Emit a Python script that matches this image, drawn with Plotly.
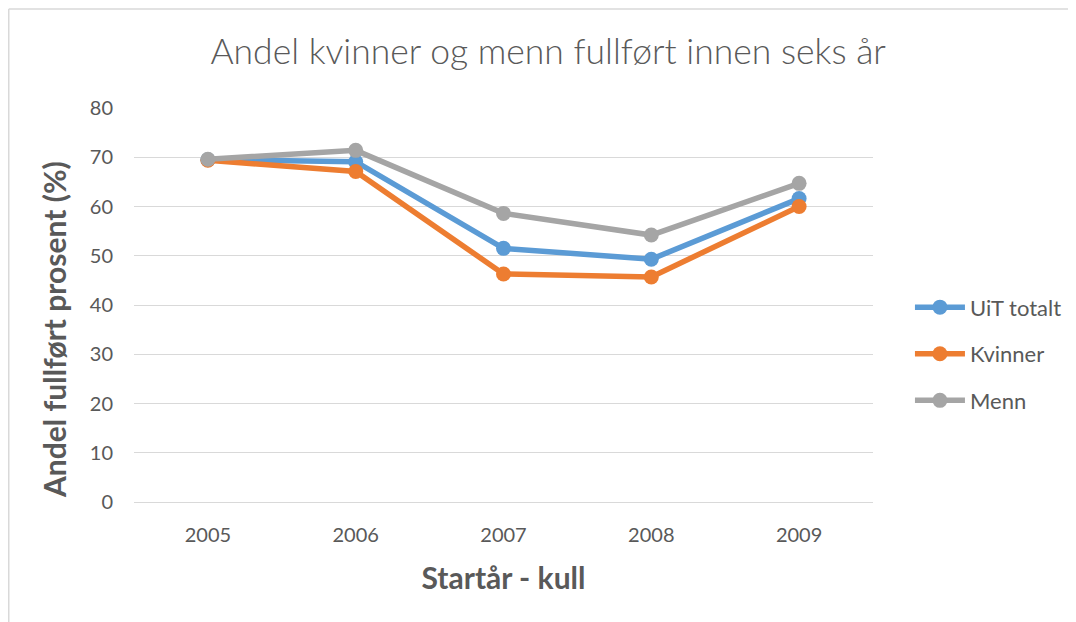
import plotly.graph_objects as go

years = ["2005", "2006", "2007", "2008", "2009"]
uit_totalt = [69.5, 69.1, 51.5, 49.3, 61.6]
kvinner = [69.4, 67.1, 46.3, 45.7, 60.0]
menn = [69.6, 71.4, 58.6, 54.2, 64.7]

series = [
    ("UiT totalt", uit_totalt, "#5b9bd5"),
    ("Kvinner", kvinner, "#ed7d31"),
    ("Menn", menn, "#a5a5a5"),
]

fig = go.Figure()
for name, vals, color in series:
    fig.add_trace(go.Scatter(
        x=years, y=vals, name=name, mode="lines+markers",
        line=dict(color=color, width=5.5),
        marker=dict(color=color, size=15),
        legendgroup=name,
    ))

FONT = "Lato, Calibri, 'Open Sans', sans-serif"
GREY = "#595959"

L, R, T, B = 126, 211, 100, 128
PW, PH = 1076 - L - R, 622 - T - B

# page has an 8px body margin, so offsets are compensated here
fig.update_layout(
    width=1076, height=622,
    margin=dict(l=L, r=R, t=T, b=B),
    paper_bgcolor="white", plot_bgcolor="white",
    font=dict(family=FONT, color=GREY, size=20),
    title=dict(text="Andel kvinner og menn fullført innen seks år",
               x=0.502, xanchor="center", y=0.93, yanchor="middle",
               font=dict(size=35.5, color=GREY, family=FONT, weight=300)),
    xaxis=dict(type="category", range=[-0.5, 4.5], showgrid=False,
               showline=False, ticks="", tickfont=dict(size=20, color=GREY),
               ticklabelstandoff=19,
               title=dict(text="<b>Startår - kull</b>", font=dict(size=30, color=GREY), standoff=22)),
    yaxis=dict(range=[0, 80], dtick=10, showgrid=True, gridcolor="#d9d9d9", gridwidth=1,
               zeroline=True, zerolinecolor="#d9d9d9", zerolinewidth=1,
               showline=False, ticks="", tickfont=dict(size=20, color=GREY),
               ticklabelstandoff=20),
    legend=dict(x=1.05, xanchor="left", y=0.376, yanchor="middle",
                font=dict(size=22, color=GREY, family=FONT),
                itemwidth=50,
                traceorder="grouped", tracegroupgap=15, bgcolor="rgba(0,0,0,0)"),
    showlegend=True,
)

# y-axis title (placed as in the reference, slightly below plot centre)
fig.add_annotation(text="<b>Andel fullført prosent (%)</b>", textangle=-90,
                   xref="paper", yref="paper", x=(46 - L) / PW, y=(T + PH - 322) / PH,
                   xanchor="center", yanchor="middle", showarrow=False,
                   font=dict(size=30, color=GREY, family=FONT))

# chart-area border (left and top edges visible)
x_left = (0.75 - L) / PW
y_top = (T + PH - 1) / PH
fig.add_shape(type="line", xref="paper", yref="paper", x0=x_left, x1=x_left, y0=-0.5, y1=y_top,
              line=dict(color="#d9d9d9", width=1.5))
fig.add_shape(type="line", xref="paper", yref="paper", x0=x_left, x1=1.5, y0=y_top, y1=y_top,
              line=dict(color="#d9d9d9", width=1.5))

fig.write_html("out.html")
